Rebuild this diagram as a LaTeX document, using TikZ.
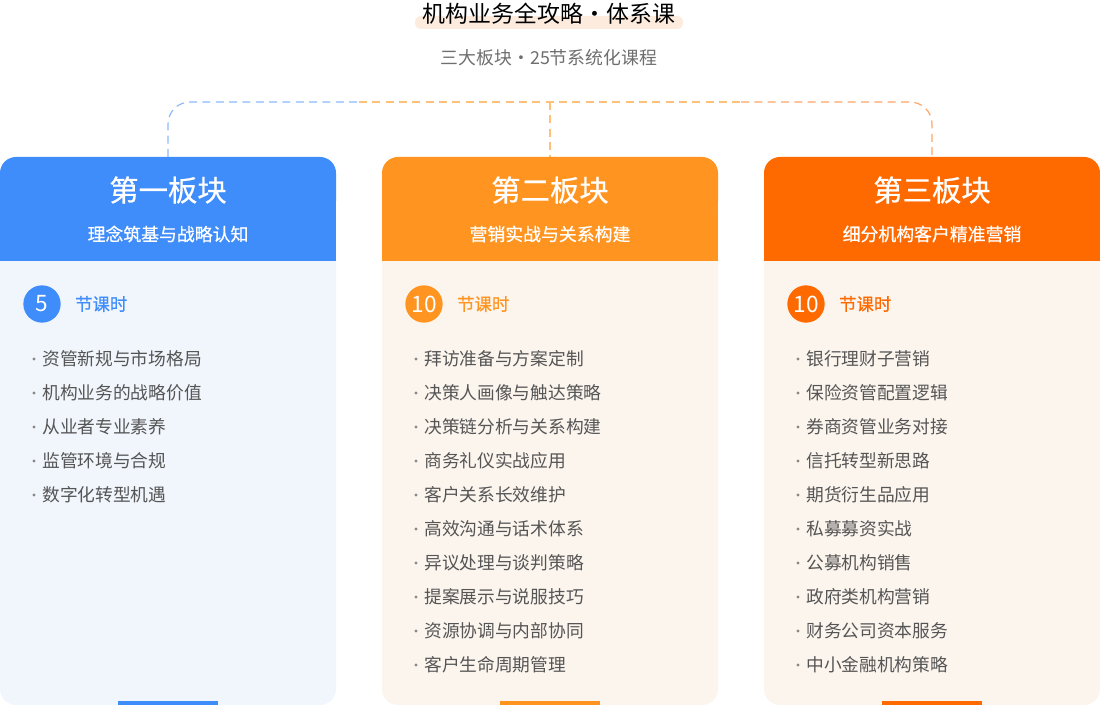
\documentclass[tikz,border=0pt]{standalone}
\usepackage{fontspec}
\setmainfont{Noto Sans CJK SC}
\newfontfamily\medfont{Noto Sans CJK SC}[FakeBold=0.6]
\usepackage{xcolor}
\usetikzlibrary{positioning}
\definecolor{cblue}{HTML}{3F8CFB}
\definecolor{corange}{HTML}{FF9520}
\definecolor{cred}{HTML}{FF6A00}
\definecolor{bgblue}{HTML}{F1F6FD}
\definecolor{bgorange}{HTML}{FCF5EE}
\definecolor{txtgray}{HTML}{555555}
\tikzset{
  headtitle/.style={text=white,font=\fontsize{22}{25}\selectfont\medfont,inner sep=0pt},
  headsub/.style={text=white,font=\fontsize{13.4}{15}\selectfont\medfont,inner sep=0pt},
  numdot/.style={circle,minimum size=28pt,inner sep=0pt,text=white,font=\fontsize{17}{19}\selectfont},
  item/.style={anchor=west,text=txtgray,font=\fontsize{13.3}{16}\selectfont,inner sep=0pt},
  link/.style={dashed,dash pattern=on 6pt off 4pt,line width=0.9pt}
}
\begin{document}
\begin{tikzpicture}[x=0.75pt,y=0.75pt,yscale=-1,xscale=1]
\useasboundingbox (0,0) rectangle (1100,705);
% title
\fill[color={rgb,255:red,253;green,236;blue,222},rounded corners=4.5pt] (415,16) rectangle (683,29);
\node[inner sep=0pt,font=\fontsize{17.2}{20}\selectfont] (title) at (549,14) {机构业务全攻略・体系课};
\node[inner sep=0pt,text=txtgray!85,font=\fontsize{13.4}{15}\selectfont] (subtitle) at (549,58) {三大板块・25节系统化课程};
% dashed links
\coordinate (la) at (168,157);
\coordinate (lb) at (550,157);
\coordinate (lc) at (932,157);
\draw[link,cblue!60] (la) -- (168,124) arc[start angle=180,end angle=270,radius=22] -- (359,102);
\draw[link,corange!60] (359,102) -- (741,102);
\draw[link,cred!60] (741,102) -- (910,102) arc[start angle=270,end angle=360,radius=22] -- (lc);
\draw[link,corange!60] (550,102) -- (lb);
% cards
\foreach \x/\col/\bg/\ttl/\sub/\num/\nm in {0/cblue/bgblue/第一板块/理念筑基与战略认知/5/a,
    382/corange/bgorange/第二板块/营销实战与关系构建/10/b,
    764/cred/bgorange/第三板块/细分机构客户精准营销/10/c}{
  \fill[\bg,rounded corners=12pt] (\x,200) rectangle ++(336,505);
  \fill[\col,rounded corners=12pt] (\x,157) rectangle ++(336,60);
  \fill[\col] (\x,200) rectangle ++(336,61);
  \fill[\col] (\x+118,701) rectangle ++(100,4);
  \node[headtitle] (head\nm) at (\x+168,190) {\ttl};
  \node[headsub] (sub\nm) at (\x+168,234) {\sub};
  \node[numdot,fill=\col] (num\nm) at (\x+42,304) {\num};
  \node[anchor=west,inner sep=0pt,text=\col,font=\fontsize{13}{15}\selectfont\medfont] (unit\nm) at (\x+75,304) {节课时};
}
% lists
\foreach \t [count=\i] in {资管新规与市场格局,机构业务的战略价值,从业者专业素养,监管环境与合规,数字化转型机遇}{
  \fill[txtgray!70] (34,359+34*\i-34) circle (1.6);
  \node[item] (a\i) at (42,359+34*\i-34) {\t};
}
\foreach \t [count=\i] in {拜访准备与方案定制,决策人画像与触达策略,决策链分析与关系构建,商务礼仪实战应用,客户关系长效维护,高效沟通与话术体系,异议处理与谈判策略,提案展示与说服技巧,资源协调与内部协同,客户生命周期管理}{
  \fill[txtgray!70] (416,359+34*\i-34) circle (1.6);
  \node[item] (b\i) at (424,359+34*\i-34) {\t};
}
\foreach \t [count=\i] in {银行理财子营销,保险资管配置逻辑,券商资管业务对接,信托转型新思路,期货衍生品应用,私募募资实战,公募机构销售,政府类机构营销,财务公司资本服务,中小金融机构策略}{
  \fill[txtgray!70] (798,359+34*\i-34) circle (1.6);
  \node[item] (c\i) at (806,359+34*\i-34) {\t};
}
\end{tikzpicture}
\end{document}
